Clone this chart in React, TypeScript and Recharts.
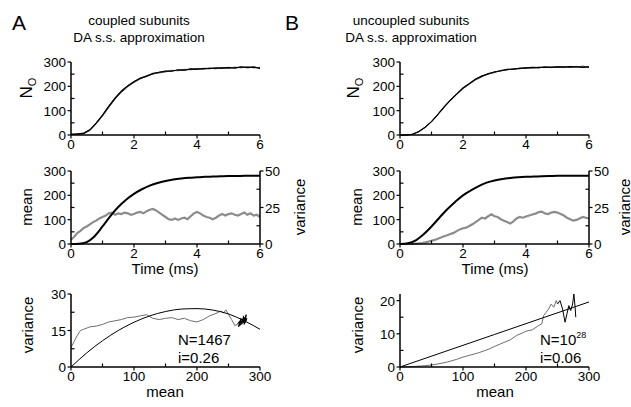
import React from "react";
import { LineChart, Line, XAxis, YAxis } from "recharts";

// time grid for the N_O traces (ms)
const topTime = [0, 0.2, 0.4, 0.6, 0.8, 1, 1.2, 1.4, 1.6, 1.8, 2, 2.2, 2.4, 2.6, 2.8, 3, 3.2, 3.4, 3.6, 3.8, 4, 4.2, 4.4, 4.6, 4.8, 5, 5.2, 5.4, 5.6, 5.8, 6];
const topA1 = [2, 5, 8, 22, 50, 83, 120, 153, 182, 203, 220, 233, 244, 250, 258, 262, 263, 267, 266, 271, 270, 274, 272, 276, 273, 278, 276, 279, 277, 280, 275];
const topA2 = [4, 3, 5, 18, 46, 78, 113, 148, 175, 198, 216, 230, 242, 252, 255, 259, 266, 264, 270, 268, 273, 270, 275, 272, 277, 274, 279, 276, 281, 276, 278];
const topA3 = [3, 4, 7, 21, 49, 81, 118, 151, 180, 201, 219, 234, 241, 253, 258, 263, 262, 268, 267, 272, 271, 273, 274, 275, 276, 277, 275, 280, 277, 279, 274];
const topB1 = [0, 0, 3, 14, 32, 55, 85, 116, 144, 170, 194, 212, 229, 243, 250, 260, 263, 269, 270, 275, 274, 277, 276, 280, 277, 281, 278, 282, 279, 283, 278];
const topB2 = [0, 0, 3, 14, 32, 55, 85, 114, 142, 167, 190, 209, 226, 239, 253, 256, 266, 267, 273, 272, 277, 275, 279, 277, 280, 278, 281, 277, 282, 279, 281];
const topB3 = [0, 0, 3, 14, 32, 55, 84, 115, 143, 168, 193, 211, 230, 242, 251, 259, 264, 270, 271, 274, 276, 278, 277, 279, 278, 280, 279, 281, 280, 278, 280];

// mean (black) and variance (gray)
const meanTime = [0, 0.25, 0.5, 0.75, 1, 1.25, 1.5, 1.75, 2, 2.25, 2.5, 2.75, 3, 3.25, 3.5, 3.75, 4, 4.25, 4.5, 4.75, 5, 5.25, 5.5, 5.75, 6];
const meanA = [0, 1, 8, 32, 72, 115, 152, 182, 206, 225, 240, 251, 259, 265, 269, 272, 274, 276, 277, 278, 279, 279, 280, 280, 280];
const meanB = [0, 3, 15, 40, 72, 108, 143, 173, 200, 220, 238, 252, 261, 267, 271, 274, 276, 277, 278, 279, 280, 280, 280, 280, 280];

const varTime = [0, 0.1, 0.2, 0.3, 0.4, 0.5, 0.6, 0.7, 0.8, 0.9, 1, 1.1, 1.2, 1.3, 1.4, 1.5, 1.6, 1.7, 1.8, 1.9, 2, 2.1, 2.2, 2.3, 2.4, 2.5, 2.6, 2.7, 2.8, 2.9, 3, 3.1, 3.2, 3.3, 3.4, 3.5, 3.6, 3.7, 3.8, 3.9, 4, 4.1, 4.2, 4.3, 4.4, 4.5, 4.6, 4.7, 4.8, 4.9, 5, 5.1, 5.2, 5.3, 5.4, 5.5, 5.6, 5.7, 5.8, 5.9, 6];
const varA = [3, 5, 7.5, 9, 11, 12, 13.5, 15, 16, 17.5, 18.5, 19.5, 21, 21.5, 20, 21, 20.5, 21.5, 21, 20, 20.5, 21.5, 22, 21, 22.5, 23.5, 24, 23, 21.5, 20, 18.5, 17, 16.5, 17.5, 16.5, 17.5, 18, 17, 19, 21, 22, 21, 19.5, 18.5, 18, 17, 18, 19.5, 20.5, 19.5, 20.5, 21, 20, 19.5, 20.5, 21.5, 20, 21, 19.5, 20, 18.5];
const varB = [0, 0, 0, 0, 0, 0.2, 0.4, 0.7, 1.1, 1.6, 2.2, 2.8, 3.6, 4.4, 5.3, 6, 6.8, 7.6, 8.8, 10, 10.8, 11.2, 12.3, 13.5, 15, 16.5, 18, 17.5, 19, 20.3, 19, 18.5, 17, 16, 15, 14, 15.5, 17.5, 18.5, 18, 18.8, 19.5, 20.2, 20.8, 21.8, 22.2, 21, 20.5, 21.5, 22, 21.5, 20.5, 19.5, 18, 17, 16, 16.5, 17.5, 18.5, 18, 17.5];

// variance vs mean
const vmMeanA = [0, 3, 6, 10, 15, 20, 30, 40, 50, 60, 70, 80, 90, 100, 110, 120, 130, 140, 150, 160, 170, 180, 190, 200, 210, 220, 230, 238, 242, 246, 250, 255, 260, 264];
const vmVarA = [8, 9.5, 11, 13, 15, 15.5, 16.5, 16.8, 17.5, 18.5, 19, 19.5, 20.3, 20.5, 21, 21.5, 20, 19.5, 20, 20.3, 19.5, 20, 19, 18.5, 19.5, 21, 22, 23, 22.2, 23.5, 21.5, 19.5, 17, 17.5];
const vmEndMeanA = [264, 268, 266, 270, 268, 272, 271, 274, 273, 276, 275, 278, 276, 279, 277];
const vmEndVarA = [17.5, 19, 16.5, 20, 17, 19.5, 17.5, 21, 18, 20.5, 17.5, 21.5, 18, 20, 18.5];
const fitMeanA = [0, 25, 50, 75, 100, 125, 150, 175, 200, 225, 250, 275, 300];
const fitVarA = [0, 5.8, 10.8, 15, 18.4, 21, 22.8, 23.8, 24, 23.4, 21.8, 19, 15.5];

const vmMeanB = [0, 10, 25, 40, 50, 60, 75, 90, 100, 110, 125, 140, 150, 160, 175, 185, 195, 200, 210, 220, 225, 228, 232, 236, 240, 244, 248, 250];
const vmVarB = [0, 0.05, 0.2, 0.4, 0.6, 0.9, 1.5, 2.3, 3, 3.5, 4.3, 5.3, 6.2, 7, 8.2, 9.5, 10.3, 10.8, 11.2, 12.5, 13, 15.5, 16.5, 17.5, 19, 18, 20, 19];
const vmEndMeanB = [250, 254, 258, 262, 265, 268, 271, 274, 276, 278, 279];
const vmEndVarB = [19, 20, 17.5, 13.5, 16, 18.5, 17, 19, 22, 18, 15];
const fitMeanB = [0, 150, 300];
const fitVarB = [0, 9.8, 19.6];

const timeTicks = [0, 1, 2, 3, 4, 5, 6];
const timeLabels = [0, 2, 4, 6];
const noTicks = [0, 50, 100, 150, 200, 250, 300];
const noLabels = [0, 100, 200, 300];
const varRightTicks = [0, 12.5, 25, 37.5, 50];
const varRightLabels = [0, 25, 50];
const meanTicks = [0, 50, 100, 150, 200, 250, 300];
const meanLabels = [0, 100, 200, 300];
const vmTicksA = [0, 7.5, 15, 22.5, 30];
const vmLabelsA = [0, 15, 30];
const vmTicksB = [0, 5, 10, 15, 20];
const vmLabelsB = [0, 10, 20];

const FONT = '"Liberation Sans", Arial, sans-serif';
const axisLine = { stroke: "#000", strokeWidth: 1.5 };

function makeTick(side: "bottom" | "left" | "right", labels: number[]) {
  return (props: any) => {
    const { x, y, payload } = props;
    const v = payload.value;
    const major = labels.includes(v);
    const len = 3.5;
    let line;
    let label = null;
    if (side === "bottom") {
      line = <line x1={x} x2={x} y1={y} y2={major ? y + len : y - len} stroke="#000" strokeWidth={1.2} />;
      if (major) label = <text x={x} y={y + 14} textAnchor="middle" fontSize={13.5} fontFamily={FONT} fill="#000">{v}</text>;
    } else if (side === "left") {
      line = <line x1={x} x2={major ? x - len : x + len} y1={y} y2={y} stroke="#000" strokeWidth={1.2} />;
      if (major) label = <text x={x - 5} y={y + 5} textAnchor="end" fontSize={13.5} fontFamily={FONT} fill="#000">{v}</text>;
    } else {
      line = <line x1={x} x2={major ? x + len : x - len} y1={y} y2={y} stroke="#000" strokeWidth={1.2} />;
      if (major) label = <text x={x + 5} y={y + 5} textAnchor="start" fontSize={13.5} fontFamily={FONT} fill="#000">{v}</text>;
    }
    return <g>{line}{label}</g>;
  };
}

const PLOT_W = 189;
const PLOT_H = 73;

function Box({ left, top, children }: { left: number; top: number; children: React.ReactNode }) {
  return <div style={{ position: "absolute", left: left - 60, top: top - 10 }}>{children}</div>;
}

function TopPanel({ left, top, traces }: { left: number; top: number; traces: number[][] }) {
  const data = topTime.map((t, i) => ({ t, a: traces[0][i], b: traces[1][i], c: traces[2][i] }));
  return (
    <Box left={left} top={top}>
      <LineChart width={60 + PLOT_W + 40} height={10 + PLOT_H + 30} data={data} margin={{ top: 10, right: 40, bottom: 0, left: 0 }}>
        <XAxis dataKey="t" type="number" domain={[0, 6]} ticks={timeTicks} interval={0} height={30} tickSize={0} tickMargin={0} tickLine={false} axisLine={axisLine} tick={makeTick("bottom", timeLabels)} />
        <YAxis type="number" domain={[0, 300]} ticks={noTicks} interval={0} width={60} tickSize={0} tickMargin={0} tickLine={false} axisLine={axisLine} tick={makeTick("left", noLabels)} />
        <Line dataKey="a" stroke="#222" strokeWidth={1} dot={false} isAnimationActive={false} />
        <Line dataKey="b" stroke="#444" strokeWidth={1} dot={false} isAnimationActive={false} />
        <Line dataKey="c" stroke="#000" strokeWidth={1.2} dot={false} isAnimationActive={false} />
      </LineChart>
    </Box>
  );
}

function MidPanel({ left, top, mean, variance }: { left: number; top: number; mean: number[]; variance: number[] }) {
  const meanData = meanTime.map((t, i) => ({ t, m: mean[i] }));
  const varData = varTime.map((t, i) => ({ t, v: variance[i] }));
  return (
    <Box left={left} top={top}>
      <LineChart width={60 + PLOT_W + 40} height={10 + PLOT_H + 30} margin={{ top: 10, right: 0, bottom: 0, left: 0 }}>
        <XAxis dataKey="t" type="number" domain={[0, 6]} ticks={timeTicks} interval={0} height={30} tickSize={0} tickMargin={0} tickLine={false} axisLine={axisLine} tick={makeTick("bottom", timeLabels)} />
        <YAxis yAxisId="l" type="number" domain={[0, 300]} ticks={noTicks} interval={0} width={60} tickSize={0} tickMargin={0} tickLine={false} axisLine={axisLine} tick={makeTick("left", noLabels)} />
        <YAxis yAxisId="r" orientation="right" type="number" domain={[0, 50]} ticks={varRightTicks} interval={0} width={40} tickSize={0} tickMargin={0} tickLine={false} axisLine={axisLine} tick={makeTick("right", varRightLabels)} />
        <Line yAxisId="r" data={varData} dataKey="v" stroke="#8c8c8c" strokeWidth={2.2} dot={false} isAnimationActive={false} />
        <Line yAxisId="l" data={meanData} dataKey="m" type="monotone" stroke="#000" strokeWidth={2} dot={false} isAnimationActive={false} />
      </LineChart>
    </Box>
  );
}

function VmPanel(props: {
  left: number; top: number; yMax: number; yTicks: number[]; yLabels: number[];
  traceMean: number[]; traceVar: number[]; endMean: number[]; endVar: number[]; fitMean: number[]; fitVar: number[]; fitType: "monotone" | "linear";
}) {
  const trace = props.traceMean.map((m, i) => ({ m, v: props.traceVar[i] }));
  const end = props.endMean.map((m, i) => ({ m, v: props.endVar[i] }));
  const fit = props.fitMean.map((m, i) => ({ m, v: props.fitVar[i] }));
  return (
    <Box left={props.left} top={props.top}>
      <LineChart width={60 + PLOT_W + 40} height={10 + PLOT_H + 30} margin={{ top: 10, right: 40, bottom: 0, left: 0 }}>
        <XAxis dataKey="m" type="number" domain={[0, 300]} ticks={meanTicks} interval={0} height={30} tickSize={0} tickMargin={0} tickLine={false} axisLine={axisLine} tick={makeTick("bottom", meanLabels)} />
        <YAxis type="number" domain={[0, props.yMax]} ticks={props.yTicks} interval={0} width={60} tickSize={0} tickMargin={0} tickLine={false} axisLine={axisLine} tick={makeTick("left", props.yLabels)} />
        <Line data={trace} dataKey="v" stroke="#6e6e6e" strokeWidth={1} dot={false} isAnimationActive={false} />
        <Line data={end} dataKey="v" stroke="#000" strokeWidth={1} dot={false} isAnimationActive={false} />
        <Line data={fit} dataKey="v" type={props.fitType} stroke="#000" strokeWidth={1} dot={false} isAnimationActive={false} />
      </LineChart>
    </Box>
  );
}

function VLabel({ x, y, children, size = 15 }: { x: number; y: number; children: React.ReactNode; size?: number }) {
  return (
    <text transform={`translate(${x},${y}) rotate(-90)`} textAnchor="middle" fontSize={size} fontFamily={FONT} fill="#000">
      {children}
    </text>
  );
}

export default function App() {
  const txt = { fontFamily: FONT, fill: "#000" } as const;
  return (
    <div style={{ position: "absolute", left: 0, top: 0, width: 631, height: 407, background: "#fff", overflow: "hidden" }}>
      <TopPanel left={71} top={62} traces={[topA1, topA2, topA3]} />
      <MidPanel left={71} top={171} mean={meanA} variance={varA} />
      <VmPanel left={71} top={294} yMax={30} yTicks={vmTicksA} yLabels={vmLabelsA} traceMean={vmMeanA} traceVar={vmVarA} endMean={vmEndMeanA} endVar={vmEndVarA} fitMean={fitMeanA} fitVar={fitVarA} fitType="monotone" />
      <TopPanel left={400} top={62} traces={[topB1, topB2, topB3]} />
      <MidPanel left={400} top={171} mean={meanB} variance={varB} />
      <VmPanel left={400} top={294} yMax={20} yTicks={vmTicksB} yLabels={vmLabelsB} traceMean={vmMeanB} traceVar={vmVarB} endMean={vmEndMeanB} endVar={vmEndVarB} fitMean={fitMeanB} fitVar={fitVarB} fitType="linear" />
      <svg width={631} height={407} style={{ position: "absolute", left: 0, top: 0, pointerEvents: "none" }}>
        <text x={12} y={30} fontSize={21} {...txt}>A</text>
        <text x={285} y={30} fontSize={21} {...txt}>B</text>
        <text x={139} y={25} fontSize={13.5} textAnchor="middle" {...txt}>coupled subunits</text>
        <text x={139} y={42} fontSize={13.5} textAnchor="middle" {...txt}>DA s.s. approximation</text>
        <text x={411} y={25} fontSize={13.5} textAnchor="middle" {...txt}>uncoupled subunits</text>
        <text x={411} y={42} fontSize={13.5} textAnchor="middle" {...txt}>DA s.s. approximation</text>

        <VLabel x={32} y={88} size={17}>N<tspan fontSize={11} dy={4}>O</tspan></VLabel>
        <VLabel x={32} y={207}>mean</VLabel>
        <VLabel x={305} y={207}>variance</VLabel>
        <VLabel x={33} y={325}>variance</VLabel>
        <text x={165} y={274} fontSize={15} textAnchor="middle" {...txt}>Time (ms)</text>
        <text x={165} y={397} fontSize={15} textAnchor="middle" {...txt}>mean</text>
        <text x={178} y={345} fontSize={15} {...txt}>N=1467</text>
        <text x={178} y={363} fontSize={15} {...txt}>i=0.26</text>

        <VLabel x={359} y={88} size={17}>N<tspan fontSize={11} dy={4}>O</tspan></VLabel>
        <VLabel x={362} y={207}>mean</VLabel>
        <VLabel x={630} y={207}>variance</VLabel>
        <VLabel x={363} y={325}>variance</VLabel>
        <text x={495} y={274} fontSize={15} textAnchor="middle" {...txt}>Time (ms)</text>
        <text x={495} y={397} fontSize={15} textAnchor="middle" {...txt}>mean</text>
        <text x={540} y={345} fontSize={15} {...txt}>N=10<tspan fontSize={9} dy={-7}>28</tspan></text>
        <text x={540} y={363} fontSize={15} {...txt}>i=0.06</text>
      </svg>
    </div>
  );
}
